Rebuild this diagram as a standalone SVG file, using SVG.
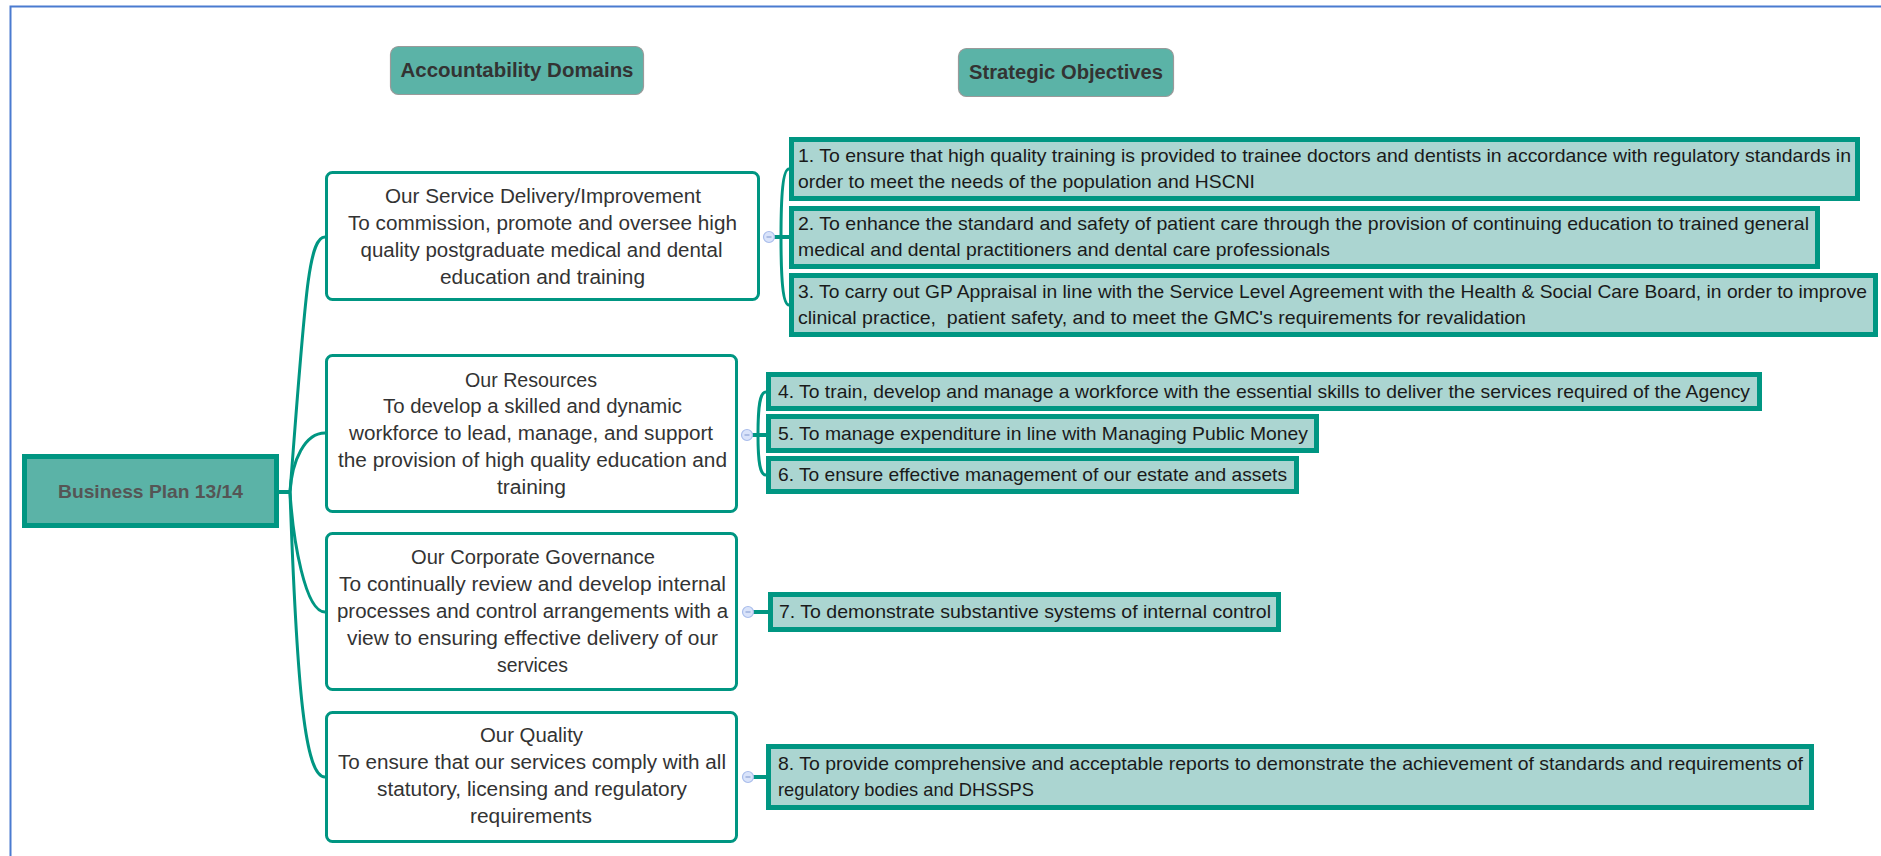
<svg xmlns="http://www.w3.org/2000/svg" width="1881" height="856" viewBox="0 0 1881 856">
<style>
.hdr{fill:#5BB3A7;stroke:#9a9a9a;stroke-width:1.2}
.hdrt{font-family:"Liberation Sans",Arial,sans-serif;font-weight:bold;font-size:20px;fill:#333;text-anchor:middle}
.root{fill:#5BB3A7;stroke:#009682;stroke-width:5}
.roott{font-family:"Liberation Sans",Arial,sans-serif;font-weight:bold;font-size:19px;fill:#555;text-anchor:middle}
.dom{fill:#fff;stroke:#009682;stroke-width:3}
.domt{font-family:"Liberation Sans",Arial,sans-serif;font-size:20px;fill:#333;text-anchor:middle}
.obj{fill:#ABD5D1;stroke:#009682;stroke-width:5}
.objt{font-family:"Liberation Sans",Arial,sans-serif;font-size:19px;fill:#1a1a1a}
.con{fill:none;stroke:#009682;stroke-width:3}
.stub{fill:none;stroke:#009682;stroke-width:4}
.col{fill:#D9E3FA;stroke:#A9BDEB;stroke-width:1.2}
.minus{stroke:#8EA3D6;stroke-width:1.2}
</style>
<rect x="0" y="0" width="1881" height="856" fill="#fff"/>
<rect x="10.5" y="6.5" width="1890" height="870" fill="none" stroke="#4A7BD0" stroke-width="2"/>

<g id="connectors">
  <path class="stub" d="M279 492 H290"/>
  <path class="con" d="M290 492 C305 300 308 237 325 237"/>
  <path class="con" d="M290 492 C292 460 305 433 325 433"/>
  <path class="con" d="M290 492 C293 540 305 612 325 612"/>
  <path class="con" d="M290 492 C297 690 305 777 325 777"/>
  <path class="stub" d="M774 237 H789"/>
  <path class="con" d="M781 237 C781 195 783 169 789 169"/>
  <path class="con" d="M781 237 C781 280 783 305 789 305"/>
  <path class="stub" d="M752 435 H766"/>
  <path class="con" d="M758 435 C758 405 760 392 766 392"/>
  <path class="con" d="M758 435 C758 462 760 475 766 475"/>
  <path class="stub" d="M753 612 H768"/>
  <path class="stub" d="M753 777 H766"/>
</g>

<g id="hdr-domains">
  <rect class="hdr" x="390.5" y="46.5" width="253" height="48" rx="8"/>
  <text class="hdrt" x="517" y="77" textLength="233" lengthAdjust="spacingAndGlyphs">Accountability Domains</text>
</g>
<g id="hdr-objectives">
  <rect class="hdr" x="958.5" y="48.5" width="215" height="48" rx="8"/>
  <text class="hdrt" x="1066" y="79" textLength="194" lengthAdjust="spacingAndGlyphs">Strategic Objectives</text>
</g>

<g id="root">
  <rect class="root" x="24.5" y="456.5" width="252" height="69"/>
  <text class="roott" x="150.5" y="498" textLength="185" lengthAdjust="spacingAndGlyphs">Business Plan 13/14</text>
</g>

<g id="dom-service">
  <rect class="dom" x="326.5" y="172.5" width="432" height="127" rx="6"/>
  <text class="domt" x="543" y="203" textLength="316" lengthAdjust="spacingAndGlyphs">Our Service Delivery/Improvement</text>
  <text class="domt" x="542.5" y="230" textLength="389" lengthAdjust="spacingAndGlyphs">To commission, promote and oversee high</text>
  <text class="domt" x="541.5" y="257" textLength="362" lengthAdjust="spacingAndGlyphs">quality postgraduate medical and dental</text>
  <text class="domt" x="542.5" y="284" textLength="205" lengthAdjust="spacingAndGlyphs">education and training</text>
</g>
<g id="dom-resources">
  <rect class="dom" x="326.5" y="355.5" width="410" height="156" rx="6"/>
  <text class="domt" x="531" y="387" textLength="132" lengthAdjust="spacingAndGlyphs">Our Resources</text>
  <text class="domt" x="532.5" y="413" textLength="299" lengthAdjust="spacingAndGlyphs">To develop a skilled and dynamic</text>
  <text class="domt" x="531" y="440" textLength="364" lengthAdjust="spacingAndGlyphs">workforce to lead, manage, and support</text>
  <text class="domt" x="532.5" y="467" textLength="389" lengthAdjust="spacingAndGlyphs">the provision of high quality education and</text>
  <text class="domt" x="531.5" y="494" textLength="69" lengthAdjust="spacingAndGlyphs">training</text>
</g>
<g id="dom-governance">
  <rect class="dom" x="326.5" y="533.5" width="410" height="156" rx="6"/>
  <text class="domt" x="533" y="564" textLength="244" lengthAdjust="spacingAndGlyphs">Our Corporate Governance</text>
  <text class="domt" x="532.5" y="591" textLength="387" lengthAdjust="spacingAndGlyphs">To continually review and develop internal</text>
  <text class="domt" x="532.5" y="618" textLength="391" lengthAdjust="spacingAndGlyphs">processes and control arrangements with a</text>
  <text class="domt" x="532.5" y="645" textLength="371" lengthAdjust="spacingAndGlyphs">view to ensuring effective delivery of our</text>
  <text class="domt" x="532.5" y="672" textLength="71" lengthAdjust="spacingAndGlyphs">services</text>
</g>
<g id="dom-quality">
  <rect class="dom" x="326.5" y="712.5" width="410" height="129" rx="6"/>
  <text class="domt" x="531.5" y="742" textLength="103" lengthAdjust="spacingAndGlyphs">Our Quality</text>
  <text class="domt" x="532" y="769" textLength="388" lengthAdjust="spacingAndGlyphs">To ensure that our services comply with all</text>
  <text class="domt" x="532" y="796" textLength="310" lengthAdjust="spacingAndGlyphs">statutory, licensing and regulatory</text>
  <text class="domt" x="531" y="823" textLength="122" lengthAdjust="spacingAndGlyphs">requirements</text>
</g>

<g id="obj-1">
  <rect class="obj" x="791.5" y="139.5" width="1066" height="59"/>
  <text class="objt" x="798" y="162" textLength="1053" lengthAdjust="spacingAndGlyphs">1. To ensure that high quality training is provided to trainee doctors and dentists in accordance with regulatory standards in</text>
  <text class="objt" x="798" y="188" textLength="457" lengthAdjust="spacingAndGlyphs">order to meet the needs of the population and HSCNI</text>
</g>
<g id="obj-2">
  <rect class="obj" x="791.5" y="208.5" width="1026" height="58"/>
  <text class="objt" x="798" y="230" textLength="1011" lengthAdjust="spacingAndGlyphs">2. To enhance the standard and safety of patient care through the provision of continuing education to trained general</text>
  <text class="objt" x="798" y="256" textLength="532" lengthAdjust="spacingAndGlyphs">medical and dental practitioners and dental care professionals</text>
</g>
<g id="obj-3">
  <rect class="obj" x="791.5" y="275.5" width="1084" height="59"/>
  <text class="objt" x="798" y="298" textLength="1069" lengthAdjust="spacingAndGlyphs">3. To carry out GP Appraisal in line with the Service Level Agreement with the Health &amp; Social Care Board, in order to improve</text>
  <text class="objt" x="798" y="324" textLength="728" lengthAdjust="spacingAndGlyphs" xml:space="preserve">clinical practice,  patient safety, and to meet the GMC's requirements for revalidation</text>
</g>
<g id="obj-4">
  <rect class="obj" x="768.5" y="374.5" width="991" height="34"/>
  <text class="objt" x="778" y="398" textLength="972" lengthAdjust="spacingAndGlyphs">4. To train, develop and manage a workforce with the essential skills to deliver the services required of the Agency</text>
</g>
<g id="obj-5">
  <rect class="obj" x="768.5" y="416.5" width="548" height="34"/>
  <text class="objt" x="778" y="440" textLength="530" lengthAdjust="spacingAndGlyphs">5. To manage expenditure in line with Managing Public Money</text>
</g>
<g id="obj-6">
  <rect class="obj" x="768.5" y="458.5" width="528" height="33"/>
  <text class="objt" x="778" y="481" textLength="509" lengthAdjust="spacingAndGlyphs">6. To ensure effective management of our estate and assets</text>
</g>
<g id="obj-7">
  <rect class="obj" x="770.5" y="594.5" width="508" height="35"/>
  <text class="objt" x="779" y="618" textLength="492" lengthAdjust="spacingAndGlyphs">7. To demonstrate substantive systems of internal control</text>
</g>
<g id="obj-8">
  <rect class="obj" x="768.5" y="746.5" width="1043" height="61"/>
  <text class="objt" x="778" y="770" textLength="1025" lengthAdjust="spacingAndGlyphs">8. To provide comprehensive and acceptable reports to demonstrate the achievement of standards and requirements of</text>
  <text class="objt" x="778" y="796" textLength="256" lengthAdjust="spacingAndGlyphs">regulatory bodies and DHSSPS</text>
</g>

<g id="collapse-markers">
  <circle class="col" cx="769" cy="237" r="5.5"/><path class="minus" d="M766.5 237 H771.5"/>
  <circle class="col" cx="747" cy="435" r="5.5"/><path class="minus" d="M744.5 435 H749.5"/>
  <circle class="col" cx="748" cy="612" r="5.5"/><path class="minus" d="M745.5 612 H750.5"/>
  <circle class="col" cx="748" cy="777" r="5.5"/><path class="minus" d="M745.5 777 H750.5"/>
</g>
</svg>
